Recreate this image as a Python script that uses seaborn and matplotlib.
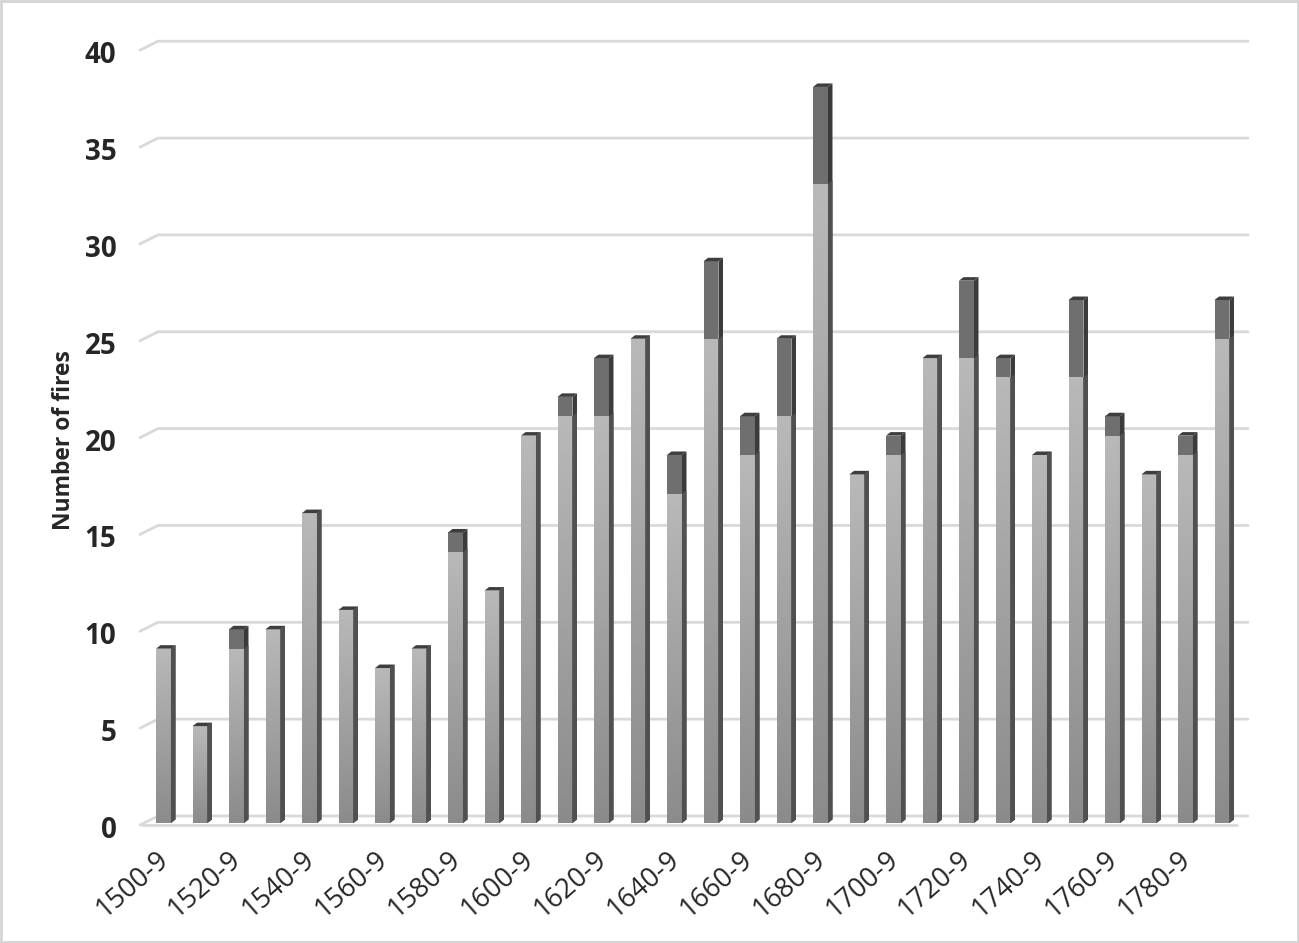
#!/usr/bin/env python3
"""Number of fires per decade, 1500-1799 (stacked 3D-style columns)."""

import matplotlib

matplotlib.use("Agg")

import matplotlib.pyplot as plt
import matplotlib.transforms as mtransforms
import numpy as np
import pandas as pd
import seaborn as sns
from matplotlib.colors import LinearSegmentedColormap
from matplotlib.patches import Polygon, Rectangle

decades = [
    "1500-9", "1510-9", "1520-9", "1530-9", "1540-9", "1550-9",
    "1560-9", "1570-9", "1580-9", "1590-9", "1600-9", "1610-9",
    "1620-9", "1630-9", "1640-9", "1650-9", "1660-9", "1670-9",
    "1680-9", "1690-9", "1700-9", "1710-9", "1720-9", "1730-9",
    "1740-9", "1750-9", "1760-9", "1770-9", "1780-9", "1790-9",
]
lower_part = [9, 5, 9, 10, 16, 11, 8, 9, 14, 12, 20, 21, 21, 25, 17,
              25, 19, 21, 33, 18, 19, 24, 24, 23, 19, 23, 20, 18, 19, 25]
upper_part = [0, 0, 1, 0, 0, 0, 0, 0, 1, 0, 0, 1, 3, 0, 2,
              4, 2, 4, 5, 0, 1, 0, 4, 1, 0, 4, 1, 0, 1, 2]
y_ticks = [0, 5, 10, 15, 20, 25, 30, 35, 40]

W, H, DPI = 1299, 943, 100
GRID = "#d9d9d9"
LIGHT_SIDE = "#505050"
DARK_FRONT = "#6f6f6f"
DARK_SIDE = "#3b3b3b"
TOP_FACE = "#3e3e3e"

sns.set_theme(style="white")
plt.rcParams["font.family"] = ["Open Sans", "DejaVu Sans"]

df = pd.DataFrame({"decade": decades, "lower": lower_part, "upper": upper_part})
df["total"] = df["lower"] + df["upper"]

fig = plt.figure(figsize=(W / DPI, H / DPI), dpi=DPI)
ax = fig.add_axes([140 / W, 120 / H, 1108 / W, 774.8 / H])

sns.barplot(data=df, x="decade", y="total", color=DARK_FRONT, saturation=1,
            width=0.41, errorbar=None, ax=ax, zorder=3, linewidth=0)
sns.barplot(data=df, x="decade", y="lower", color="#a6a6a6", saturation=1,
            width=0.41, errorbar=None, ax=ax, zorder=3.1, linewidth=0)

xlim = (-(163.5 - 140) / 36.5, (1248 - 163.5) / 36.5)
ylim = (0, 40)
px_x = 1108 / (xlim[1] - xlim[0])
px_y = 774.8 / (ylim[1] - ylim[0])
dx, dy = 4.5 / px_x, 3.5 / px_y

n = len(df)
total_bars = ax.patches[:n]
lower_bars = ax.patches[n:2 * n]

# front gradient on the light segments
grad = np.linspace(0, 1, 256).reshape(-1, 1)
front_cmap = LinearSegmentedColormap.from_list("front", ["#8b8b8b", "#b9b9b9"])
for p in lower_bars:
    x0, w, h = p.get_x(), p.get_width(), p.get_height()
    im = ax.imshow(grad, extent=[x0, x0 + w, 0, h], origin="lower",
                   cmap=front_cmap, aspect="auto", zorder=3.2,
                   interpolation="bilinear")
    im.set_clip_path(p)

# side and top faces
for tp, lp in zip(total_bars, lower_bars):
    x0, w = tp.get_x(), tp.get_width()
    x1 = x0 + w
    top, low = tp.get_height(), lp.get_height()
    ax.add_patch(Polygon([(x1, 0), (x1, top), (x1 + dx, top + dy), (x1 + dx, dy)],
                         closed=True, color=DARK_SIDE, lw=0, zorder=3.3, clip_on=False))
    ax.add_patch(Polygon([(x1, 0), (x1, low), (x1 + dx, low + dy), (x1 + dx, dy)],
                         closed=True, color=LIGHT_SIDE, lw=0, zorder=3.4, clip_on=False))
    ax.add_patch(Polygon([(x0, top), (x0 + dx, top + dy), (x1 + dx, top + dy), (x1, top)],
                         closed=True, color=TOP_FACE, lw=0, zorder=3.5, clip_on=False))

# back-wall gridlines with the little perspective step on the left
yaxis_tr = ax.get_yaxis_transform()
slant = 18 / 1108
for v in y_ticks:
    ax.plot([0, slant, 1], [v - 2 / px_y, v + 7 / px_y, v + 7 / px_y],
            transform=yaxis_tr, color=GRID, lw=2, zorder=1, clip_on=False)
ax.plot([2 / 1108, (1237 - 140) / 1108], [-2 / px_y, -2 / px_y],
        transform=yaxis_tr, color=GRID, lw=2, zorder=1, clip_on=False)

ax.set_xlim(*xlim)
ax.set_ylim(*ylim)
ax.set_yticks(y_ticks)
ax.set_yticklabels([str(v) for v in y_ticks], fontsize=20, fontweight="bold",
                   color="#262626")
ax.set_xticks(range(0, n, 2))
ax.set_xticklabels(decades[::2], rotation=41, ha="right", va="top",
                   rotation_mode="anchor", fontsize=19.5, color="#262626")
ax.tick_params(axis="x", length=0, pad=16)
ax.tick_params(axis="y", length=0, pad=17)

shift_y = mtransforms.ScaledTranslation(0, -4 / DPI, fig.dpi_scale_trans)
for lab in ax.get_yticklabels():
    lab.set_transform(lab.get_transform() + shift_y)
shift_x = mtransforms.ScaledTranslation(-8 / DPI, 0, fig.dpi_scale_trans)
for lab in ax.get_xticklabels():
    lab.set_transform(lab.get_transform() + shift_x)

ax.set_xlabel("")
ax.set_ylabel("Number of fires", fontsize=16.5, fontweight="bold", color="#262626")
ax.yaxis.set_label_coords(-0.058, 0.494)
for s in ax.spines.values():
    s.set_visible(False)

fig.patches.append(Rectangle((0.001, 0.001), 0.998, 0.998, transform=fig.transFigure,
                             fill=False, edgecolor="#d4d4d4", lw=2))

fig.savefig("out.png", dpi=DPI)
